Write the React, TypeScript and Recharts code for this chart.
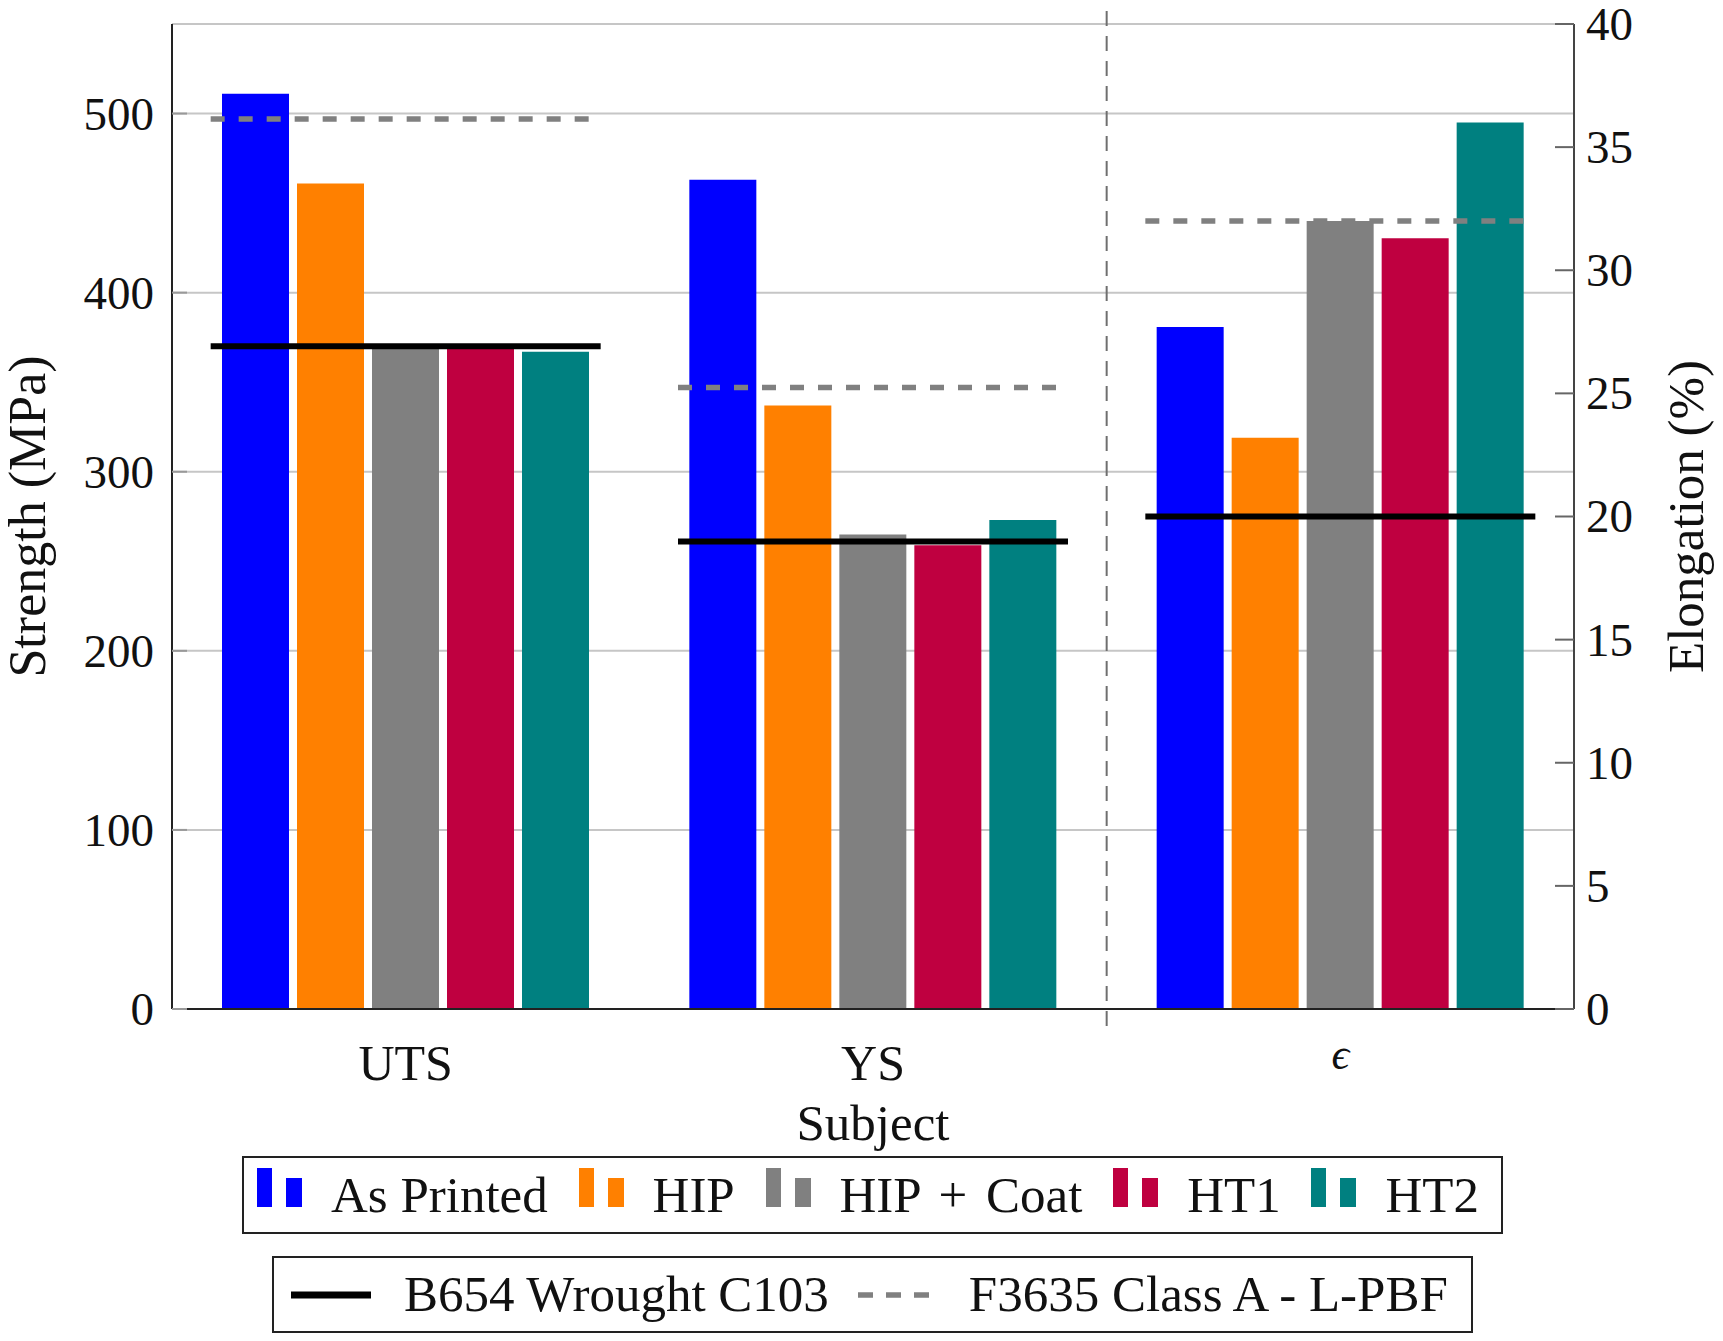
import React from "react";
import {
  Bar,
  CartesianGrid,
  ComposedChart,
  Label,
  ReferenceLine,
  XAxis,
  YAxis,
} from "recharts";

// categories on the x axis
const categories = ["UTS", "YS", "\u03F5"];

// treatments (bar series)
const seriesNames = ["As Printed", "HIP", "HIP + Coat", "HT1", "HT2"];
const seriesKeys = ["asPrinted", "hip", "hipCoat", "ht1", "ht2"];
const seriesColors = ["#0000ff", "#ff8000", "#808080", "#bf0040", "#008080"];

// strength in MPa, [UTS, YS]
const asPrintedStrength = [511, 463];
const hipStrength = [461, 337];
const hipCoatStrength = [369, 265];
const ht1Strength = [369, 259];
const ht2Strength = [367, 273];

// elongation in %, one per series
const elongation = [27.7, 23.2, 32.0, 31.3, 36.0];

// reference values [UTS MPa, YS MPa, elongation %]
const b654Wrought = [370, 261, 20];
const f3635ClassA = [497, 347, 32];

// tick labels
const strengthTicks = [0, 100, 200, 300, 400, 500];
const elongationTicks = [0, 5, 10, 15, 20, 25, 30, 35, 40];

const strengthBySeries = [
  asPrintedStrength,
  hipStrength,
  hipCoatStrength,
  ht1Strength,
  ht2Strength,
];

const chartData = categories.map((name, i) => {
  const row: Record<string, string | number | null> = { name };
  seriesKeys.forEach((key, s) => {
    row[`${key}S`] = i < 2 ? strengthBySeries[s][i] : null;
    row[`${key}E`] = i === 2 ? elongation[s] : null;
  });
  return row;
});

const FONT = '"Liberation Serif", "DejaVu Serif", serif';
const WIDTH = 1723;
const HEIGHT = 1341;
const AXIS_COLOR = "#222";
// half length of the reference segments drawn over each bar group (px)
const SEGMENT_HALF = 195;

function LeftTick({ x, y, payload }: any) {
  return (
    <g>
      <line x1={x + 18} x2={x + 33} y1={y} y2={y} stroke="#999" strokeWidth={2} />
      <text x={x} y={y} dy="0.34em" textAnchor="end" fontSize={47} fontFamily={FONT} fill="#111">
        {payload.value}
      </text>
    </g>
  );
}

function RightTick({ x, y, payload }: any) {
  return (
    <g>
      <line x1={x - 12} x2={x - 31} y1={y} y2={y} stroke="#666" strokeWidth={2} />
      <text x={x} y={y} dy="0.34em" textAnchor="start" fontSize={47} fontFamily={FONT} fill="#111">
        {payload.value}
      </text>
    </g>
  );
}

function CategoryTick({ x, y, payload }: any) {
  const isSymbol = payload.value === "\u03F5";
  return (
    <text
      x={x}
      y={y + (isSymbol ? 60 : 71)}
      textAnchor="middle"
      fontSize={isSymbol ? 44 : 50}
      fontStyle={isSymbol ? "italic" : "normal"}
      fontFamily={FONT}
      fill="#111"
    >
      {payload.value}
    </text>
  );
}

function verticalTitle(text: string, dx: number, size: number) {
  return ({ viewBox }: any) => {
    const cx = viewBox.x + dx;
    const cy = viewBox.y + viewBox.height / 2;
    return (
      <text
        x={cx}
        y={cy}
        textAnchor="middle"
        transform={`rotate(-90, ${cx}, ${cy})`}
        fontSize={size}
        fontFamily={FONT}
        fill="#111"
      >
        {text}
      </text>
    );
  };
}

function subjectTitle({ viewBox }: any) {
  return (
    <text
      x={viewBox.x + viewBox.width / 2}
      y={viewBox.y + 131}
      textAnchor="middle"
      fontSize={51}
      fontFamily={FONT}
      fill="#111"
    >
      Subject
    </text>
  );
}

// separator between strength and elongation groups, runs past the plot edges
function Separator({ x1, y1, x2, y2 }: any) {
  return (
    <line
      x1={x1}
      x2={x2}
      y1={Math.min(y1, y2) - 13}
      y2={Math.max(y1, y2) + 25}
      stroke="#6f6f6f"
      strokeWidth={2}
      strokeDasharray="15 10"
    />
  );
}

// horizontal reference segment centred on a category
function GroupSegment({ x1, y1, stroke, strokeWidth, strokeDasharray }: any) {
  return (
    <line
      x1={x1 - SEGMENT_HALF}
      x2={x1 + SEGMENT_HALF}
      y1={y1}
      y2={y1}
      stroke={stroke}
      strokeWidth={strokeWidth}
      strokeDasharray={strokeDasharray}
    />
  );
}

function BarIcon({ color }: { color: string }) {
  return (
    <svg width={45} height={54} style={{ display: "block" }}>
      <rect x={0} y={0} width={15} height={39} fill={color} />
      <rect x={29} y={10} width={16} height={29} fill={color} />
    </svg>
  );
}

function LineIcon({ dashed }: { dashed?: boolean }) {
  return (
    <svg width={dashed ? 74 : 80} height={20} style={{ display: "block" }}>
      <line
        x1={dashed ? 1 : 0}
        x2={dashed ? 74 : 80}
        y1={10}
        y2={10}
        stroke={dashed ? "#808080" : "#000"}
        strokeWidth={dashed ? 5.5 : 7}
        strokeDasharray={dashed ? "15 13" : undefined}
      />
    </svg>
  );
}

export default function App() {
  return (
    <div
      style={{
        position: "absolute",
        left: 0,
        top: 0,
        width: WIDTH,
        height: HEIGHT,
        background: "#fff",
        fontFamily: FONT,
        color: "#111",
      }}
    >
      <ComposedChart
        width={WIDTH}
        height={HEIGHT}
        data={chartData}
        margin={{ top: 24, right: 0, bottom: 0, left: 0 }}
        barGap={8}
      >
        <CartesianGrid yAxisId="left" vertical={false} stroke="#c6c6c6" strokeWidth={2} />
        <XAxis
          dataKey="name"
          type="category"
          height={332}
          interval={0}
          tickSize={0}
          tickMargin={0}
          tickLine={false}
          axisLine={{ stroke: AXIS_COLOR, strokeWidth: 2 }}
          tick={<CategoryTick />}
        >
          <Label content={subjectTitle} />
        </XAxis>
        <YAxis
          yAxisId="left"
          orientation="left"
          width={172}
          domain={[0, 550]}
          ticks={strengthTicks}
          allowDataOverflow
          tickSize={0}
          tickMargin={18}
          tickLine={false}
          axisLine={{ stroke: AXIS_COLOR, strokeWidth: 2 }}
          tick={<LeftTick />}
        >
          <Label content={verticalTitle("Strength (MPa)", 45, 52)} />
        </YAxis>
        <YAxis
          yAxisId="right"
          orientation="right"
          width={149}
          domain={[0, 40]}
          ticks={elongationTicks}
          allowDataOverflow
          tickSize={0}
          tickMargin={12}
          tickLine={false}
          axisLine={{ stroke: "#444", strokeWidth: 2 }}
          tick={<RightTick />}
        >
          <Label content={verticalTitle("Elongation (%)", 129, 51)} />
        </YAxis>

        {seriesKeys.map((key, s) => (
          <Bar
            key={`${key}S`}
            yAxisId="left"
            dataKey={`${key}S`}
            stackId={key}
            name={seriesNames[s]}
            fill={seriesColors[s]}
            barSize={67}
            isAnimationActive={false}
          />
        ))}
        {seriesKeys.map((key, s) => (
          <Bar
            key={`${key}E`}
            yAxisId="right"
            dataKey={`${key}E`}
            stackId={key}
            name={seriesNames[s]}
            fill={seriesColors[s]}
            barSize={67}
            isAnimationActive={false}
          />
        ))}

        <ReferenceLine yAxisId="left" x={categories[2]} position="start" shape={<Separator />} />

        {categories.map((c, i) => (
          <ReferenceLine
            key={`b654-${c}`}
            yAxisId={i < 2 ? "left" : "right"}
            segment={[
              { x: c, y: b654Wrought[i] },
              { x: c, y: b654Wrought[i] },
            ]}
            stroke="#000"
            strokeWidth={6}
            shape={<GroupSegment />}
          />
        ))}
        {categories.map((c, i) => (
          <ReferenceLine
            key={`f3635-${c}`}
            yAxisId={i < 2 ? "left" : "right"}
            segment={[
              { x: c, y: f3635ClassA[i] },
              { x: c, y: f3635ClassA[i] },
            ]}
            stroke="#808080"
            strokeWidth={5.5}
            strokeDasharray="14 14"
            shape={<GroupSegment />}
          />
        ))}
      </ComposedChart>

      {/* series legend */}
      <div
        style={{
          position: "absolute",
          left: 242,
          top: 1156,
          width: 1261,
          height: 78,
          boxSizing: "border-box",
          border: `2px solid ${AXIS_COLOR}`,
          display: "flex",
          alignItems: "center",
          justifyContent: "space-between",
          padding: "0 22px 0 13px",
          fontSize: 51,
          lineHeight: 1,
        }}
      >
        {seriesNames.map((n, s) => (
          <div key={n} style={{ display: "flex", alignItems: "center" }}>
            <BarIcon color={seriesColors[s]} />
            <span style={{ marginLeft: 29, wordSpacing: n.includes("+") ? 6 : 0 }}>{n}</span>
          </div>
        ))}
      </div>

      {/* reference legend */}
      <div
        style={{
          position: "absolute",
          left: 272,
          top: 1256,
          width: 1201,
          height: 77,
          boxSizing: "border-box",
          border: `2px solid ${AXIS_COLOR}`,
          display: "flex",
          alignItems: "center",
          padding: "0 0 0 17px",
          fontSize: 51,
          lineHeight: 1,
        }}
      >
        <LineIcon />
        <span style={{ marginLeft: 33 }}>B654 Wrought C103</span>
        <span style={{ marginLeft: 28, display: "block" }}>
          <LineIcon dashed />
        </span>
        <span style={{ marginLeft: 38 }}>F3635 Class A - L-PBF</span>
      </div>
    </div>
  );
}
